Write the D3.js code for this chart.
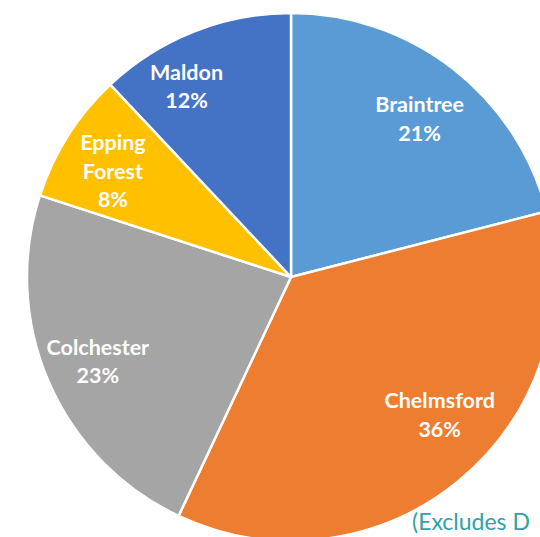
<!DOCTYPE html>
<html>
<head>
<meta charset="utf-8">
<script src="https://cdn.jsdelivr.net/npm/d3@7"></script>
<style>
  body { margin: 0; background: #fff; }
  svg { display: block; }
</style>
</head>
<body>
<svg id="chart" width="540" height="537"></svg>
<script>
// districts, share of total (%)
var districts = ['Braintree', 'Chelmsford', 'Colchester', 'Epping Forest', 'Maldon'];
var shares = [21, 36, 23, 8, 12];
var colours = ['#5b9bd5', '#ed7d31', '#a5a5a5', '#ffc000', '#4472c4'];
var labelLines = [['Braintree'], ['Chelmsford'], ['Colchester'], ['Epping', 'Forest'], ['Maldon']];
var note = '(Excludes D';

// label nudges from the centroid (best-fit placement), px
var labelShift = [[3, 4], [18, -20], [-5, 3], [-5, 4], [-29, 0]];

var svg = d3.select('#chart');
var cx = 291, cy = 277, radius = 264;

var data = districts.map(function (d, i) {
    return {name: d, value: shares[i], lines: labelLines[i], shift: labelShift[i]};
});

var pie = d3.pie().sort(null).value(function (d) { return d.value; });
var arc = d3.arc().innerRadius(0).outerRadius(radius);
var labelArc = d3.arc().innerRadius(205).outerRadius(205);
var colour = d3.scaleOrdinal().domain(districts).range(colours);

var g = svg.append('g').attr('transform', 'translate(' + cx + ',' + cy + ')');

var slices = g.selectAll('g.slice')
    .data(pie(data))
    .enter().append('g').attr('class', 'slice');

slices.append('path')
    .attr('d', arc)
    .attr('fill', function (d) { return colour(d.data.name); })
    .attr('stroke', '#fff')
    .attr('stroke-width', 2.5)
    .attr('stroke-linejoin', 'round');

var lineH = 28.7;
slices.each(function (d) {
    var c = labelArc.centroid(d);
    var x = c[0] + d.data.shift[0], y = c[1] + d.data.shift[1];
    var lines = d.data.lines.concat([d.data.value + '%']);
    var top = y - (lines.length - 1) * lineH / 2 + 7.5;
    var t = d3.select(this).append('text')
        .attr('text-anchor', 'middle')
        .attr('fill', '#fff')
        .style('font-family', 'Lato, "Open Sans", sans-serif')
        .style('font-weight', 'bold')
        .style('font-size', '21.5px');
    lines.forEach(function (l, i) {
        t.append('tspan')
            .attr('x', x)
            .attr('y', top + i * lineH)
            .text(l);
    });
});

svg.append('text')
    .attr('x', 412)
    .attr('y', 530)
    .attr('fill', '#2ea3a8')
    .style('font-family', 'Lato, "Open Sans", sans-serif')
    .style('font-size', '23px')
    .text(note);
</script>
</body>
</html>
